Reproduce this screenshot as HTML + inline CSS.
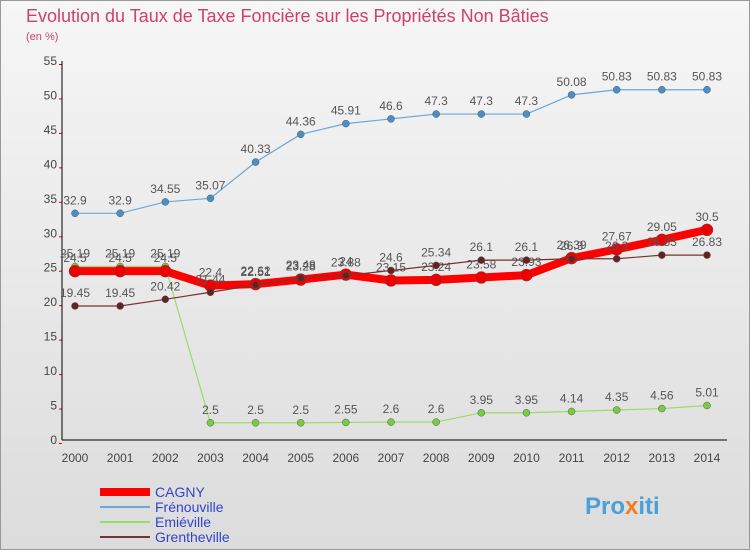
<!DOCTYPE html>
<html><head><meta charset="utf-8"><style>
html,body{margin:0;padding:0}
body{width:750px;height:550px;overflow:hidden;font-family:"Liberation Sans","DejaVu Sans",sans-serif}
</style></head><body>
<svg id="chart" width="750" height="550" xmlns="http://www.w3.org/2000/svg">
<defs><linearGradient id="bg" x1="0" y1="0" x2="0" y2="1"><stop offset="0" stop-color="#f6f6f6"/><stop offset="1" stop-color="#dcdcdc"/></linearGradient></defs>
<rect x="0.5" y="0.5" width="749" height="549" fill="url(#bg)" stroke="#999"/>
<text x="26" y="22" font-size="18" fill="#d0406e">Evolution du Taux de Taxe Foncière sur les Propriétés Non Bâties</text>
<text x="26" y="40" font-size="11" fill="#d0406e">(en %)</text>
<g id="grid"></g><g id="axes"></g><g id="series"></g><g id="legend"></g>
<text x="585" y="514" font-size="24" font-weight="bold" fill="#4aa0d8">Pro<tspan fill="#f08020">x</tspan>iti</text>
</svg>
<script>
const years=[2000,2001,2002,2003,2004,2005,2006,2007,2008,2009,2010,2011,2012,2013,2014];
const yTicks=[0,5,10,15,20,25,30,35,40,45,50,55];
const cagny=[24.5,24.5,24.5,22.4,22.62,23.28,24,23.15,23.24,23.58,23.93,26.39,27.67,29.05,30.5];
const frenouville=[32.9,32.9,34.55,35.07,40.33,44.36,45.91,46.6,47.3,47.3,47.3,50.08,50.83,50.83,50.83];
const emieville=[25.19,25.19,25.19,2.5,2.5,2.5,2.55,2.6,2.6,3.95,3.95,4.14,4.35,4.56,5.01];
const grentheville=[19.45,19.45,20.42,21.44,22.51,23.48,23.88,24.6,25.34,26.1,26.1,26.3,26.3,26.83,26.83];
const NS="http://www.w3.org/2000/svg";
const x0=75,x1=707,y0=440,y1=61,vmax=55;
function X(i){return x0+(x1-x0)*i/(years.length-1);}
function Y(v){return y0-(y0-y1)*v/vmax;}
function mk(p,t,a){const e=document.createElementNS(NS,t);for(const k in a)e.setAttribute(k,a[k]);p.appendChild(e);return e;}
const grid=document.getElementById('grid'),axes=document.getElementById('axes');
yTicks.forEach(v=>{
 const tk=mk(axes,'line',{x1:x0-16,x2:x0-13,y1:Y(v)+3.5,y2:Y(v)+3.5,stroke:'#e00'});
 
 
 const t=mk(axes,'text',{x:x0-18,y:Y(v)+4,'text-anchor':'end','font-size':12,fill:'#444'});t.textContent=v;
 
 
});
years.forEach((yr,i)=>{
 const t=mk(axes,'text',{x:X(i),y:y0+22,'text-anchor':'middle','font-size':12,fill:'#444'});t.textContent=yr;
 
 
});
const ya=mk(axes,'line',{x1:x0-13,x2:x0-13,y1:y1,y2:y0,stroke:'#000'});


const xa=mk(axes,'line',{x1:x0-13,x2:x1+20,y1:y0,y2:y0,stroke:'#000'});


const ser=document.getElementById('series');
function draw(data,name,color,w,r,fill){
 const g=mk(ser,'g',{});
 
 
 const pl=mk(g,'polyline',{points:data.map((v,i)=>X(i)+','+Y(v)).join(' '),fill:'none',stroke:color,'stroke-width':w,'stroke-linejoin':'round'});
 
 
 data.forEach((v,i)=>{
  const c=mk(g,'circle',{cx:X(i),cy:Y(v),r:r,fill:fill,stroke:'#555','stroke-width':0.5});
  
  
  const t=mk(g,'text',{x:X(i),y:Y(v)-9,'text-anchor':'middle','font-size':12,fill:'#555'});t.textContent=v;
  
  
 });
}
draw(frenouville,'frenouville','#6aa8d8',1.2,3.5,'#4a90c8');
draw(emieville,'emieville','#99dd66',1.2,3.5,'#77cc44');
draw(cagny,'cagny','#ff0000',8,6,'#ee0000');
draw(grentheville,'grentheville','#773333',1.2,3.5,'#662222');
const lg=document.getElementById('legend');
[['CAGNY','#ff0000',8],['Frénouville','#6aa8d8',2],['Emiéville','#99dd66',2],['Grentheville','#773333',2]].forEach((d,i)=>{
 const y=492+i*15;
 const l=mk(lg,'line',{x1:100,x2:150,y1:y,y2:y,stroke:d[1],'stroke-width':d[2]});
 
 
 const t=mk(lg,'text',{x:155,y:y+5,'font-size':14,fill:'#3344cc'});t.textContent=d[0];
 
 
});
</script>
</body></html>
